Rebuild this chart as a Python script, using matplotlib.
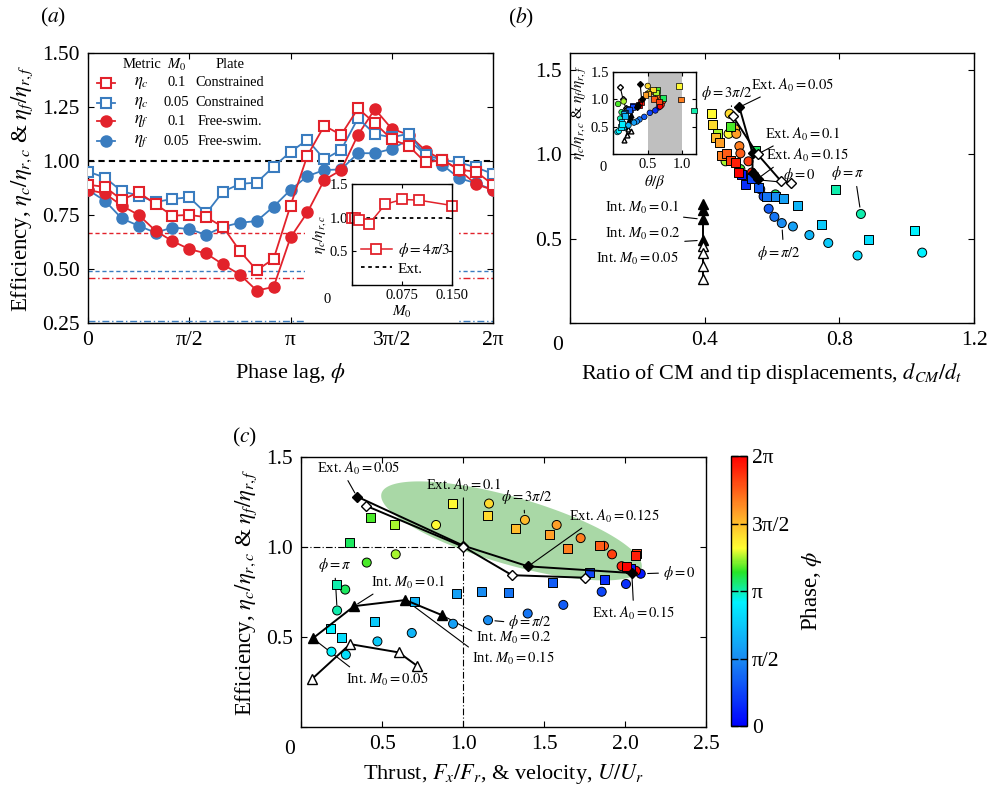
import numpy as np
import matplotlib.pyplot as plt
from matplotlib.colors import LinearSegmentedColormap, Normalize
from matplotlib.cm import ScalarMappable
from matplotlib.patches import Polygon, Rectangle

plt.rcParams['font.family'] = ['Liberation Serif', 'DejaVu Serif']
plt.rcParams['mathtext.fontset'] = 'stix'
plt.rcParams['font.size'] = 15
plt.rcParams['xtick.direction'] = 'in'
plt.rcParams['ytick.direction'] = 'in'
plt.rcParams['xtick.top'] = True
plt.rcParams['ytick.right'] = True
plt.rcParams['xtick.major.size'] = 4
plt.rcParams['ytick.major.size'] = 4
plt.rcParams['axes.linewidth'] = 1.0

red = '#e2222b'
blue = '#3a7cbf'
pi_labels = ['0', 'π/2', 'π', '3π/2', '2π']
pi_ticks = [0, np.pi / 2, np.pi, 3 * np.pi / 2, 2 * np.pi]

# phase index k, phi = k*pi/12
k_a = np.arange(25)
eta_c_010 = [0.89, 0.88, 0.82, 0.855, 0.80, 0.747, 0.75, 0.74, 0.695, 0.583, 0.494, 0.547, 0.793,
             1.025, 1.163, 1.121, 1.243, 1.175, 1.10, 1.07, 0.993, 1.005, 0.96, 0.95, 0.89]
eta_c_005 = [0.951, 0.923, 0.86, 0.84, 0.81, 0.824, 0.832, 0.757, 0.858, 0.894, 0.90, 0.974, 1.042,
             1.098, 1.008, 1.051, 1.198, 1.124, 1.11, 1.126, 1.028, 1.005, 0.993, 0.97, 0.94]
eta_f_010 = [0.866, 0.85, 0.793, 0.75, 0.677, 0.629, 0.592, 0.572, 0.521, 0.474, 0.40, 0.417, 0.646,
             0.762, 0.912, 0.958, 1.121, 1.24, 1.149, 1.121, 1.048, 1.005, 0.958, 0.892, 0.866]
eta_f_005 = [0.866, 0.816, 0.734, 0.70, 0.668, 0.692, 0.685, 0.658, 0.695, 0.714, 0.722, 0.789, 0.866,
             0.93, 0.958, 0.961, 1.036, 1.036, 1.056, 1.098, 1.028, 0.982, 0.92, 0.897, 0.866]
# reference (rigid plate) efficiencies
ref_c_010 = 0.667
ref_c_005 = 0.49
ref_f_010 = 0.458
ref_f_005 = 0.258

# inset: efficiency vs M0 at phi = 4pi/3
m0_inset = [0.0, 0.005, 0.01, 0.025, 0.05, 0.075, 0.1, 0.15]
eta_inset = [1.0, 1.0, 0.97, 0.9, 1.2, 1.27, 1.26, 1.18]

# (b), (c): M0 = 0.1 plates, k = 1..24
k_bc = np.arange(1, 25)
eff_sq = eta_c_010[1:]
eff_ci = eta_f_010[1:]
dcm_sq = [0.51, 0.52, 0.538, 0.56, 0.585, 0.61, 0.634, 0.677, 0.748, 0.888, 1.024, 0.79,
          0.55, 0.476, 0.438, 0.419, 0.422, 0.432, 0.443, 0.451, 0.464, 0.476, 0.491, 0.50]
dcm_ci = [0.555, 0.565, 0.575, 0.59, 0.607, 0.629, 0.662, 0.711, 0.767, 0.854, 1.046, 0.864,
          0.61, 0.506, 0.462, 0.471, 0.474, 0.49, 0.494, 0.503, 0.506, 0.53, 0.54, 0.55]
thr_sq = [2.03, 1.872, 1.778, 1.551, 1.276, 1.111, 0.959, 0.698, 0.449, 0.245, 0.181, 0.218,
          0.296, 0.428, 0.572, 0.93, 1.148, 1.321, 1.53, 1.642, 1.84, 2.07, 2.062, 2.008]
vel_ci = [2.095, 2.004, 1.854, 1.617, 1.397, 1.152, 0.936, 0.681, 0.469, 0.274, 0.185, 0.22,
          0.27, 0.403, 0.582, 0.831, 1.158, 1.38, 1.576, 1.724, 1.868, 1.918, 1.977, 2.066]
theta_sq = [0.29, 0.24, 0.28, 0.23, 0.18, 0.16, 0.15, 0.17, 0.12, 0.11, 0.13, 1.17,
            0.72, 0.64, 0.62, 0.95, 0.58, 0.50, 0.47, 0.98, 0.59, 0.66, 0.40, 0.37]
theta_ci = [0.66, 0.61, 0.53, 0.45, 0.38, 0.34, 0.30, 0.22, 0.15, 0.06, 0.08, 0.10,
            0.12, 0.07, 0.15, 0.52, 0.50, 0.57, 0.60, 0.65, 0.70, 0.72, 0.70, 0.68]

# external (A0) and internal (M0) actuation
ext_a0 = ['0.05', '0.1', '0.125', '0.15']
ext_eff_f = [1.279, 1.006, 0.891, 0.854]
ext_eff_c = [1.227, 1.0, 0.842, 0.828]
ext_dcm_f = [0.503, 0.542, 0.542, 0.557]
ext_dcm_c = [0.483, 0.557, 0.626, 0.656]
ext_vel_f = [0.342, 1.0, 1.40, 2.04]
ext_thr_c = [0.40, 1.0, 1.30, 1.75]
ext_theta_f = [0.39, 0.41, 0.36, 0.34]
ext_theta_c = [0.10, 0.14, 0.18, 0.20]
int_m0 = ['0.05', '0.1', '0.15', '0.2']
int_eff_f = [0.491, 0.67, 0.704, 0.619]
int_eff_c = [0.263, 0.459, 0.413, 0.337]
int_dcm = [0.395, 0.395, 0.395, 0.395]
int_vel_f = [0.07, 0.325, 0.642, 0.87]
int_thr_c = [0.062, 0.30, 0.60, 0.716]
int_theta_f = [0.20, 0.24, 0.26, 0.23]
int_theta_c = [0.16, 0.22, 0.25, 0.20]

# high-efficiency band in (c)
band_center = (1.297, 1.088)
band_major = (0.803, -0.208)
band_minor = (0.055, 0.18)

phase_cmap = LinearSegmentedColormap.from_list('phase', [
    (0.0, (0.0, 0.0, 1.0)), (0.25, (0.1, 0.55, 0.95)), (0.46, (0.0, 0.95, 1.0)),
    (0.57, (0.15, 0.9, 0.15)), (0.66, (1.0, 1.0, 0.2)), (0.8, (1.0, 0.6, 0.15)),
    (1.0, (1.0, 0.0, 0.0))])
norm = Normalize(0, 2 * np.pi)

fig = plt.figure(figsize=(9.99, 7.92), dpi=100)


def note(ax, text, xy, xytext, relpos=(0.5, 0.5), ha='center', fs=10.5, sb=3):
    ax.annotate(text, xy=xy, xytext=xytext, ha=ha, va='center', fontsize=fs, zorder=3,
                arrowprops=dict(arrowstyle='-', lw=0.8, color='k', shrinkA=1, shrinkB=sb,
                                relpos=relpos))


# ---------------- (a) ----------------
ax = fig.add_axes([0.0881, 0.5922, 0.4054, 0.3409])
phi_a = k_a * np.pi / 12
ax.axhline(1.0, color='k', ls=(0, (3, 2)), lw=1.5, zorder=2)
ax.axhline(ref_c_010, color=red, ls=(0, (3, 2)), lw=1.0, zorder=2)
ax.axhline(ref_c_005, color=blue, ls=(0, (3, 2)), lw=1.0, zorder=2)
ax.axhline(ref_f_010, color=red, ls=(0, (5, 2, 1, 2)), lw=1.0, zorder=2)
ax.axhline(ref_f_005, color=blue, ls=(0, (5, 2, 1, 2)), lw=1.0, zorder=2)
ax.add_patch(Rectangle((0.536, 0), 0.38, 0.53, transform=ax.transAxes, fc='white', ec='none',
                       zorder=2.5))
kw_sq = dict(marker='s', ms=7.8, mew=1.5, mfc='white', lw=1.3, zorder=3)
kw_ci = dict(marker='o', ms=8, lw=1.3, zorder=3)
ax.plot(phi_a, eta_f_005, color=blue, **kw_ci)
ax.plot(phi_a, eta_f_010, color=red, **kw_ci)
ax.plot(phi_a, eta_c_005, color=blue, **kw_sq)
ax.plot(phi_a, eta_c_010, color=red, **kw_sq)
ax.set_xlim(0, 2 * np.pi)
ax.set_ylim(0.25, 1.5)
ax.set_xticks(pi_ticks, pi_labels)
ax.set_yticks([0.25, 0.5, 0.75, 1.0, 1.25, 1.5])
ax.set_yticklabels(['0.25', '0.50', '0.75', '1.00', '1.25', '1.50'])
ax.tick_params(labelsize=15.5, pad=6)
ax.set_xlabel(r'Phase lag, $\phi$', fontsize=16, labelpad=8)
ax.set_ylabel(r'Efficiency, $\eta_c/\eta_{r,c}$ & $\eta_f/\eta_{r,f}$', fontsize=16.5, labelpad=5)
ax.text(-0.085, 1.13, r'($a$)', transform=ax.transAxes, fontsize=15.5, ha='center', va='center')

# table-style legend
leg_rows = [(red, 's', r'$\eta_c$', '0.1', 'Constrained'),
            (blue, 's', r'$\eta_c$', '0.05', 'Constrained'),
            (red, 'o', r'$\eta_f$', '0.1', 'Free-swim.'),
            (blue, 'o', r'$\eta_f$', '0.05', 'Free-swim.')]
leg_y = [0.889, 0.815, 0.748, 0.674]
for (c, m, met, m0, plate), yy in zip(leg_rows, leg_y):
    ax.plot([0.022, 0.067], [yy, yy], color=c, lw=1.3, transform=ax.transAxes, clip_on=False)
    ax.plot([0.044], [yy], color=c, marker=m, ms=7.5, mew=1.5,
            mfc='white' if m == 's' else c, transform=ax.transAxes, clip_on=False)
    ax.text(0.133, yy, met, transform=ax.transAxes, fontsize=12, ha='center', va='center')
    ax.text(0.218, yy, m0, transform=ax.transAxes, fontsize=10.5, ha='center', va='center')
    ax.text(0.35, yy, plate, transform=ax.transAxes, fontsize=10.3, ha='center', va='center')
for x, t in [(0.133, 'Metric'), (0.218, r'$M_0$'), (0.35, 'Plate')]:
    ax.text(x, 0.956, t, transform=ax.transAxes, fontsize=10.5, ha='center', va='center')

# inset of (a)
axi = fig.add_axes([0.3524, 0.6402, 0.1001, 0.1275])
axi.axhline(1.0, color='k', ls=(0, (2, 2)), lw=1.3, label='Ext.')
axi.plot(m0_inset, eta_inset, color=red, marker='s', ms=7, mew=1.3, mfc='white', lw=1.1,
         clip_on=False, label=r'$\phi = 4\pi/3$')
axi.set_xlim(0, 0.15)
axi.set_ylim(0, 1.5)
axi.set_xticks([0, 0.075, 0.15], ['', '0.075', '0.150'])
axi.set_yticks([0, 0.5, 1.0, 1.5], ['', '0.5', '1.0', '1.5'])
axi.tick_params(labelsize=10.5, length=3, pad=3)
axi.text(-0.25, -0.08, '0', transform=axi.transAxes, fontsize=10.5, ha='center', va='top')
axi.set_xlabel(r'$M_0$', fontsize=11, labelpad=1)
axi.set_ylabel(r'$\eta_c/\eta_{r,c}$', fontsize=11, labelpad=1)
h, l = axi.get_legend_handles_labels()
axi.legend(h[::-1], l[::-1], loc='lower left', frameon=False, fontsize=11, handlelength=2.0,
           handletextpad=0.4, borderaxespad=0.2, labelspacing=0.2)

# ---------------- (b) ----------------
axb = fig.add_axes([0.5706, 0.5922, 0.4044, 0.3409])
sc_kw = dict(cmap=phase_cmap, norm=norm, edgecolors='k', linewidths=0.7, s=42, zorder=4)
axb.plot(ext_dcm_f, ext_eff_f, color='k', lw=1.4, marker='D', ms=5, zorder=5)
axb.plot(ext_dcm_c, ext_eff_c, color='k', lw=1.4, marker='D', ms=5, mfc='white', zorder=5)
axb.scatter(dcm_ci, eff_ci, c=k_bc * np.pi / 12, marker='o', **sc_kw)
axb.scatter(dcm_sq, eff_sq, c=k_bc * np.pi / 12, marker='s', **sc_kw)
axb.plot(int_dcm, int_eff_f, color='k', lw=1.4, marker='^', ms=7, zorder=5)
axb.plot(int_dcm, int_eff_c, color='k', lw=1.4, marker='^', ms=7, mfc='white', zorder=5)
axb.set_xlim(0, 1.2)
axb.set_ylim(0, 1.6)
axb.set_xticks([0, 0.4, 0.8, 1.2], ['', '0.4', '0.8', '1.2'])
axb.set_yticks([0, 0.5, 1.0, 1.5], ['', '0.5', '1.0', '1.5'])
axb.tick_params(labelsize=15.5, pad=6)
axb.text(-0.03, -0.05, '0', transform=axb.transAxes, fontsize=15.5, ha='center', va='top')
axb.set_xlabel(r'Ratio of CM and tip displacements, $d_{CM}/d_t$', fontsize=16, labelpad=8)
axb.text(-0.12, 1.13, r'($b$)', transform=axb.transAxes, fontsize=15.5, ha='center', va='center')

note(axb, r'$\phi = 3\pi/2$', (0.48, 1.25), (0.464, 1.365), relpos=(0.6, 0), sb=4)
note(axb, r'Ext. $A_0 = 0.05$', (ext_dcm_f[0], ext_eff_f[0]), (0.66, 1.41), relpos=(0.2, 0))
note(axb, r'Ext. $A_0 = 0.1$', (ext_dcm_c[1], ext_eff_c[1]), (0.69, 1.12), relpos=(0.2, 0))
note(axb, r'Ext. $A_0 = 0.15$', (ext_dcm_f[3], ext_eff_f[3]), (0.705, 0.995), relpos=(0.15, 0))
note(axb, r'$\phi = 0$', (0.56, 0.848), (0.68, 0.875), relpos=(0.1, 0.1))
note(axb, r'$\phi = \pi$', (dcm_ci[11], eff_ci[11]), (0.825, 0.887), relpos=(0.75, 0), sb=5)
note(axb, r'$\phi = \pi/2$', (dcm_ci[5], eff_ci[5]), (0.62, 0.417), relpos=(0.6, 1), sb=5)
note(axb, r'Int. $M_0 = 0.1$', (0.39, 0.615), (0.214, 0.683), relpos=(0.95, 0))
note(axb, r'Int. $M_0 = 0.2$', (0.39, 0.49), (0.216, 0.526), relpos=(0.85, 0))
axb.text(0.2, 0.381, r'Int. $M_0 = 0.05$', fontsize=10.5, ha='center', va='center')

# inset of (b)
axbi = fig.add_axes([0.6139, 0.8056, 0.0828, 0.1039])
axbi.axvspan(0.5, 1.0, color='#bfbfbf', lw=0, zorder=0)
axbi.plot(int_theta_f, int_eff_f, color='k', lw=0.8, marker='^', ms=3.5, zorder=3)
axbi.plot(int_theta_c, int_eff_c, color='k', lw=0.8, marker='^', ms=3.5, mfc='white', zorder=3)
axbi.plot(ext_theta_c, ext_eff_c, color='k', lw=0.8, marker='D', ms=3, mfc='white', zorder=3)
axbi.plot(ext_theta_f, ext_eff_f, color='k', lw=0.8, marker='D', ms=3, zorder=5)
si_kw = dict(cmap=phase_cmap, norm=norm, edgecolors='k', linewidths=0.5, s=16, zorder=4,
             clip_on=False)
axbi.scatter(theta_ci, eff_ci, c=k_bc * np.pi / 12, marker='o', **si_kw)
axbi.scatter(theta_sq, eff_sq, c=k_bc * np.pi / 12, marker='s', **si_kw)
axbi.set_xlim(0, 1.2)
axbi.set_ylim(0, 1.5)
axbi.set_xticks([0, 0.5, 1.0], ['', '0.5', '1.0'])
axbi.set_yticks([0, 0.5, 1.0, 1.5], ['', '0.5', '1.0', '1.5'])
axbi.tick_params(labelsize=10.5, length=3, pad=3)
axbi.text(-0.12, -0.08, '0', transform=axbi.transAxes, fontsize=10.5, ha='center', va='top')
axbi.set_xlabel(r'$\theta/\beta$', fontsize=11, labelpad=1)
axbi.set_ylabel(r'$\eta_c/\eta_{r,c}$ & $\eta_f/\eta_{r,f}$', fontsize=11, labelpad=1)

# ---------------- (c) ----------------
axc = fig.add_axes([0.3018, 0.0824, 0.4052, 0.3409])
t = np.linspace(0, 2 * np.pi, 200)
bx = band_center[0] + band_major[0] * np.cos(t) + band_minor[0] * np.sin(t)
by = band_center[1] + band_major[1] * np.cos(t) + band_minor[1] * np.sin(t)
axc.add_patch(Polygon(np.column_stack([bx, by]), closed=True, fc='#a9d8a6', ec='none', zorder=0))
axc.plot([1.0, 1.0], [0, 1.0], color='k', lw=0.8, ls=(0, (6, 2, 1, 2)), zorder=1)
axc.plot([0, 1.0], [1.0, 1.0], color='k', lw=0.8, ls=(0, (6, 2, 1, 2)), zorder=1)
axc.plot(ext_vel_f, ext_eff_f, color='k', lw=1.4, marker='D', ms=5, zorder=5)
axc.plot(ext_thr_c, ext_eff_c, color='k', lw=1.4, marker='D', ms=5, mfc='white', zorder=5)
axc.plot(int_vel_f, int_eff_f, color='k', lw=1.4, marker='^', ms=7, zorder=5)
axc.plot(int_thr_c, int_eff_c, color='k', lw=1.4, marker='^', ms=7, mfc='white', zorder=5)
axc.scatter(vel_ci, eff_ci, c=k_bc * np.pi / 12, marker='o', **sc_kw)
axc.scatter(thr_sq, eff_sq, c=k_bc * np.pi / 12, marker='s', **sc_kw)
axc.set_xlim(0, 2.5)
axc.set_ylim(0, 1.5)
axc.set_xticks([0, 0.5, 1.0, 1.5, 2.0, 2.5], ['', '0.5', '1.0', '1.5', '2.0', '2.5'])
axc.set_yticks([0, 0.5, 1.0, 1.5], ['', '0.5', '1.0', '1.5'])
axc.tick_params(labelsize=15.5, pad=6)
axc.text(-0.03, -0.05, '0', transform=axc.transAxes, fontsize=15.5, ha='center', va='top')
axc.set_xlabel(r'Thrust, $F_x/F_r$, & velocity, $U/U_r$', fontsize=16, labelpad=6)
axc.set_ylabel(r'Efficiency, $\eta_c/\eta_{r,c}$ & $\eta_f/\eta_{r,f}$', fontsize=16.5, labelpad=5)
axc.text(-0.14, 1.07, r'($c$)', transform=axc.transAxes, fontsize=15.5, ha='center', va='center')

note(axc, r'Ext. $A_0 = 0.05$', (ext_vel_f[0], ext_eff_f[0]), (0.35, 1.437), relpos=(0.35, 0))
note(axc, r'Ext. $A_0 = 0.1$', (1.0, 1.0), (1.0, 1.342), relpos=(0.5, 0))
note(axc, r'$\phi = 3\pi/2$', (vel_ci[17], eff_ci[17]), (1.39, 1.276), relpos=(0.45, 0), sb=5)
note(axc, r'Ext. $A_0 = 0.125$', (ext_vel_f[2], ext_eff_f[2]), (1.93, 1.171), relpos=(0.2, 0))
note(axc, r'$\phi = 0$', (vel_ci[0], eff_ci[0]), (2.33, 0.854), relpos=(0, 0.5), sb=5)
note(axc, r'Ext. $A_0 = 0.15$', (ext_vel_f[3], ext_eff_f[3]), (2.05, 0.632), relpos=(0.5, 1))
note(axc, r'$\phi = \pi$', (vel_ci[11], eff_ci[11]), (0.207, 0.898), relpos=(0.5, 0), sb=4)
note(axc, r'Int. $M_0 = 0.1$', (int_vel_f[1], int_eff_f[1]), (0.66, 0.804), relpos=(0.1, 0))
note(axc, r'$\phi = \pi/2$', (vel_ci[5], eff_ci[5]), (1.41, 0.582), relpos=(0, 0.5), sb=5)
note(axc, r'Int. $M_0 = 0.2$', (int_vel_f[3], int_eff_f[3]), (1.31, 0.493), relpos=(0, 0.8))
note(axc, r'Int. $M_0 = 0.15$', (int_vel_f[2], int_eff_f[2]), (1.31, 0.382), relpos=(0.02, 0.9))
note(axc, r'Int. $M_0 = 0.05$', (int_vel_f[0], int_eff_f[0]), (0.53, 0.265), relpos=(0.1, 1))

# colorbar
cax = fig.add_axes([0.7314, 0.0833, 0.0166, 0.3409])
cb = fig.colorbar(ScalarMappable(norm=norm, cmap=phase_cmap), cax=cax, ticks=pi_ticks)
cb.ax.set_yticklabels(pi_labels)
cb.ax.tick_params(labelsize=15.5, direction='in', left=True, right=True, length=5, width=1)
cb.outline.set_linewidth(1.0)
cb.set_label(r'Phase, $\phi$', fontsize=16.5, labelpad=6)

fig.savefig('out.png', dpi=100)
